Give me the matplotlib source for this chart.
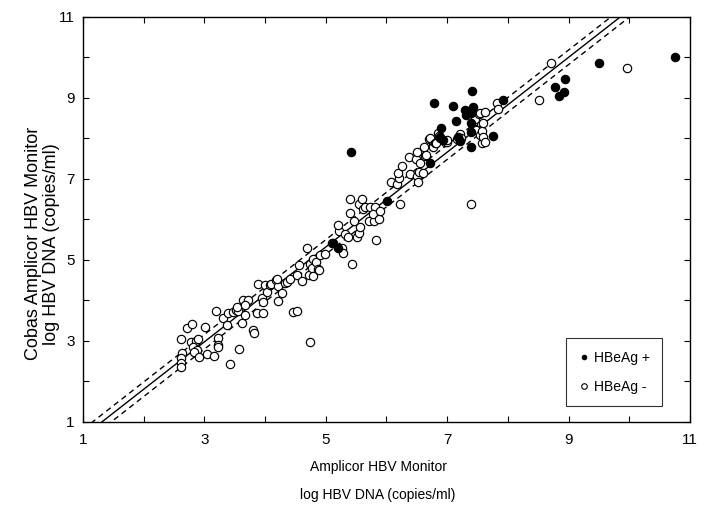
import numpy as np
import matplotlib
matplotlib.use("Agg")
import matplotlib.pyplot as plt
from matplotlib.lines import Line2D
from matplotlib.ticker import FixedLocator

plt.rcParams['font.family'] = ['Liberation Sans', 'DejaVu Sans']

# HBeAg positive samples (x = Amplicor, y = Cobas Amplicor), log copies/ml
pos_x = [5.42, 5.12, 5.20, 6.01, 6.72, 6.78, 6.90, 6.88, 6.93, 7.10, 7.15, 7.18, 7.21, 7.29,
         7.31, 7.42, 7.39, 7.41, 7.39, 7.39, 7.39, 7.75, 7.92, 8.78, 8.94, 8.84, 8.92, 9.50, 10.75]
pos_y = [7.67, 5.42, 5.30, 6.46, 7.40, 8.88, 8.26, 8.04, 7.96, 8.80, 8.43, 8.04, 7.94, 8.70,
         8.58, 8.78, 8.63, 9.17, 8.38, 8.16, 7.79, 8.06, 8.95, 9.27, 9.47, 9.05, 9.15, 9.86, 10.01]

# HBeAg negative samples
neg_x = [2.61, 2.63, 2.61, 2.61, 2.61, 2.71, 2.80, 2.78, 2.86, 2.89, 2.81, 2.88, 2.83, 2.91,
         3.01, 3.04, 3.16, 3.22, 3.22, 3.22, 3.19, 3.31, 3.37, 3.39, 3.42, 3.47, 3.52, 3.55,
         3.54, 3.57, 3.62, 3.64, 3.72, 3.67, 3.67,
         3.80, 3.82, 3.87, 3.97, 3.88, 3.95, 3.97, 4.00, 4.03, 4.08, 4.10, 4.18, 4.21, 4.20,
         4.21, 4.28, 4.33, 4.36, 4.41, 4.46, 4.53, 4.53, 4.56, 4.61, 4.74,
         4.69, 4.72, 4.74, 4.77, 4.79, 4.79, 4.84, 4.87, 4.89, 4.90, 4.99, 5.10, 5.22, 5.20,
         5.27, 5.28, 5.32, 5.37, 5.43, 5.40, 5.40, 5.46, 5.51,
         5.55, 5.56, 5.55, 5.60, 5.61, 5.65, 5.73, 5.81, 5.71, 5.79, 5.78, 5.83, 5.88, 5.89,
         6.07, 6.17, 6.21, 6.19, 6.22, 6.26,
         6.39, 6.37, 6.49, 6.50, 6.50, 6.52, 6.54, 6.55, 6.60, 6.63, 6.62, 6.65, 6.70, 6.72,
         6.77, 6.77, 6.80, 6.82, 6.85, 6.86, 6.88, 6.96, 7.00, 7.00,
         7.16, 7.21, 7.23, 7.39, 7.43, 7.46, 7.46, 7.47, 7.52, 7.54, 7.54, 7.57, 7.57, 7.59,
         7.59, 7.62, 7.62, 7.82, 7.84,
         8.51, 8.71, 9.96]
neg_y = [3.05, 2.70, 2.58, 2.46, 2.36, 3.32, 3.42, 2.98, 3.00, 3.05, 2.85, 2.78, 2.73, 2.60,
         3.35, 2.68, 2.63, 3.07, 2.90, 2.85, 3.74, 3.57, 3.40, 3.69, 2.43, 3.72, 3.77, 3.74,
         3.84, 2.80, 3.44, 4.01, 4.01, 3.89, 3.64,
         3.27, 3.20, 3.69, 3.69, 4.41, 4.06, 3.96, 4.38, 4.21, 4.38, 4.41, 4.51, 4.36, 4.53,
         3.99, 4.19, 4.43, 4.46, 4.53, 3.72, 3.74, 4.63, 4.88, 4.48, 2.98,
         5.30, 4.63, 4.90, 4.80, 5.02, 4.60, 4.95, 4.78, 4.75, 5.12, 5.15, 5.42, 5.72, 5.86,
         5.30, 5.17, 5.64, 5.57, 4.90, 6.51, 6.16, 5.96, 5.57,
         5.67, 5.81, 6.38, 6.51, 6.26, 6.31, 6.31, 6.31, 5.96, 5.96, 6.14, 5.49, 6.01, 6.21,
         6.93, 6.88, 7.02, 7.15, 6.38, 7.32,
         7.12, 7.54, 7.49, 7.67, 7.07, 6.93, 7.17, 7.40, 7.15, 7.57, 7.79, 7.59, 7.99, 8.01,
         7.84, 7.79, 7.89, 7.89, 8.14, 8.06, 8.01, 7.91, 7.91, 7.96,
         7.99, 8.11, 8.01, 6.38, 8.36, 8.48, 8.24, 8.21, 8.60, 8.63, 8.09, 8.19, 7.89, 8.04,
         8.38, 8.65, 7.91, 8.88, 8.73,
         8.95, 9.86, 9.74]

# regression line and its band
slope, intercept, band = 1.171, -0.534, 0.18

ticks_major = [1, 3, 5, 7, 9, 11]
ticks_minor = [2, 4, 6, 8, 10]

fig = plt.figure(figsize=(7.11, 5.12), dpi=100)
ax = fig.add_axes([0.1167, 0.1758, 0.8538, 0.791])

xs = np.array([0.5, 11.5])
ax.plot(xs, slope * xs + intercept, color='black', lw=1.0)
ax.plot(xs, slope * xs + intercept + band, color='black', lw=1.0, ls=(0, (4, 3)))
ax.plot(xs, slope * xs + intercept - band, color='black', lw=1.0, ls=(0, (4, 3)))

ax.scatter(neg_x, neg_y, s=36, facecolors='white', edgecolors='black', linewidths=0.85, zorder=3)
ax.scatter(pos_x, pos_y, s=36, facecolors='black', edgecolors='black', linewidths=0.85, zorder=4)

ax.set_xlim(1, 11)
ax.set_ylim(1, 11)
for axis in (ax.xaxis, ax.yaxis):
    axis.set_major_locator(FixedLocator(ticks_major))
    axis.set_minor_locator(FixedLocator(ticks_minor))
ax.set_xticklabels([str(t) for t in ticks_major])
ax.set_yticklabels([str(t) for t in ticks_major])
ax.tick_params(which='both', direction='in', top=True, right=True, length=4, width=0.8)
ax.tick_params(which='major', labelsize=11)
ax.tick_params(axis='x', pad=8)
ax.tick_params(axis='y', pad=6)
for sp in ax.spines.values():
    sp.set_linewidth(1.0)

ax.set_xlabel("Amplicor HBV Monitor\nlog HBV DNA (copies/ml)", fontsize=10, linespacing=2.2)
ax.xaxis.set_label_coords(0.486, -0.095, transform=ax.transAxes)
ax.xaxis.label.set_va('top')
ax.set_ylabel("Cobas Amplicor HBV Monitor\nlog HBV DNA (copies/ml)", fontsize=13, linespacing=1.05)
ax.yaxis.set_label_coords(-0.038, 0.44)

handles = [
    Line2D([], [], ls='none', marker='o', ms=3, mfc='black', mec='black'),
    Line2D([], [], ls='none', marker='o', ms=4, mfc='white', mec='black', mew=0.8),
]
leg = ax.legend(handles, ['HBeAg +', 'HBeAg -'], loc='upper left', bbox_to_anchor=(0.796, 0.207),
                frameon=True, fancybox=False, edgecolor='black', fontsize=10,
                labelspacing=1.1, handletextpad=0.3, handlelength=0.8, borderpad=0.9,
                borderaxespad=0)
leg.get_frame().set_linewidth(0.8)

fig.savefig("out.png", dpi=100)
